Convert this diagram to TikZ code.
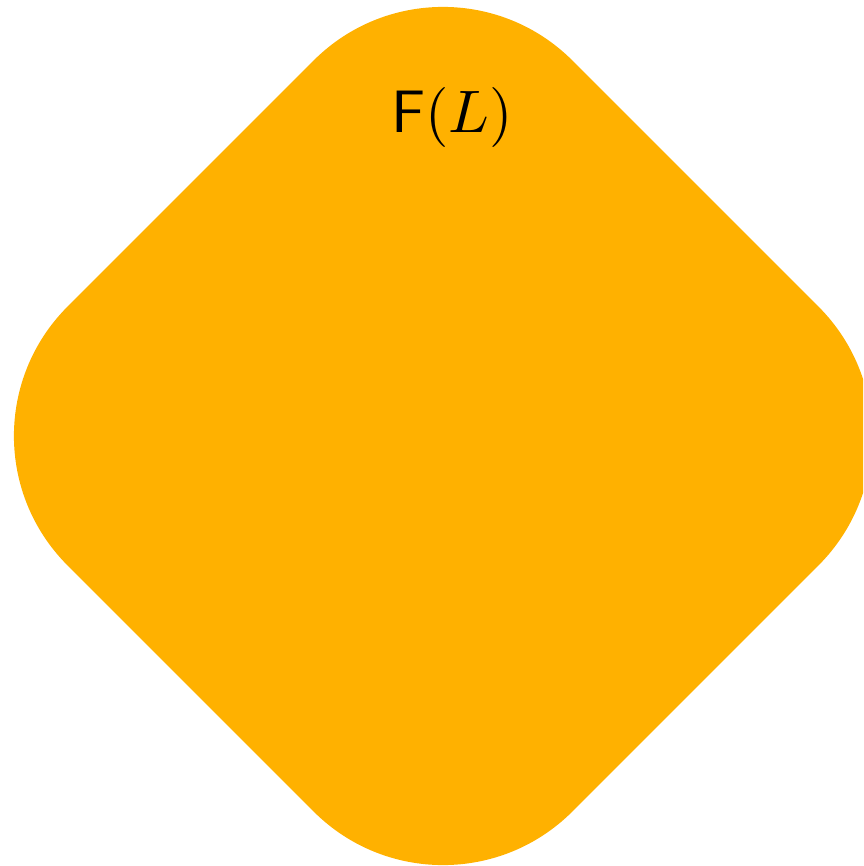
\documentclass[tikz,border=0pt]{standalone}
\usepackage{tikz}
\definecolor{gold}{RGB}{255,177,0}
\tikzset{blob/.style={fill=gold, rounded corners=183pt}}
\begin{document}
\begin{tikzpicture}[x=1pt,y=1pt]
\useasboundingbox (0,0) rectangle (863,-866);
\clip (0,0) rectangle (863,-866);
\begin{scope}[shift={(443,-436)}, rotate=45]
\path[blob] (-357,-357) rectangle (357,357);
\end{scope}
\node[anchor=base, inner sep=0pt, scale=6] (lbl) at (452,-133) {$\mathsf{F}(L)$};
\end{tikzpicture}
\end{document}
